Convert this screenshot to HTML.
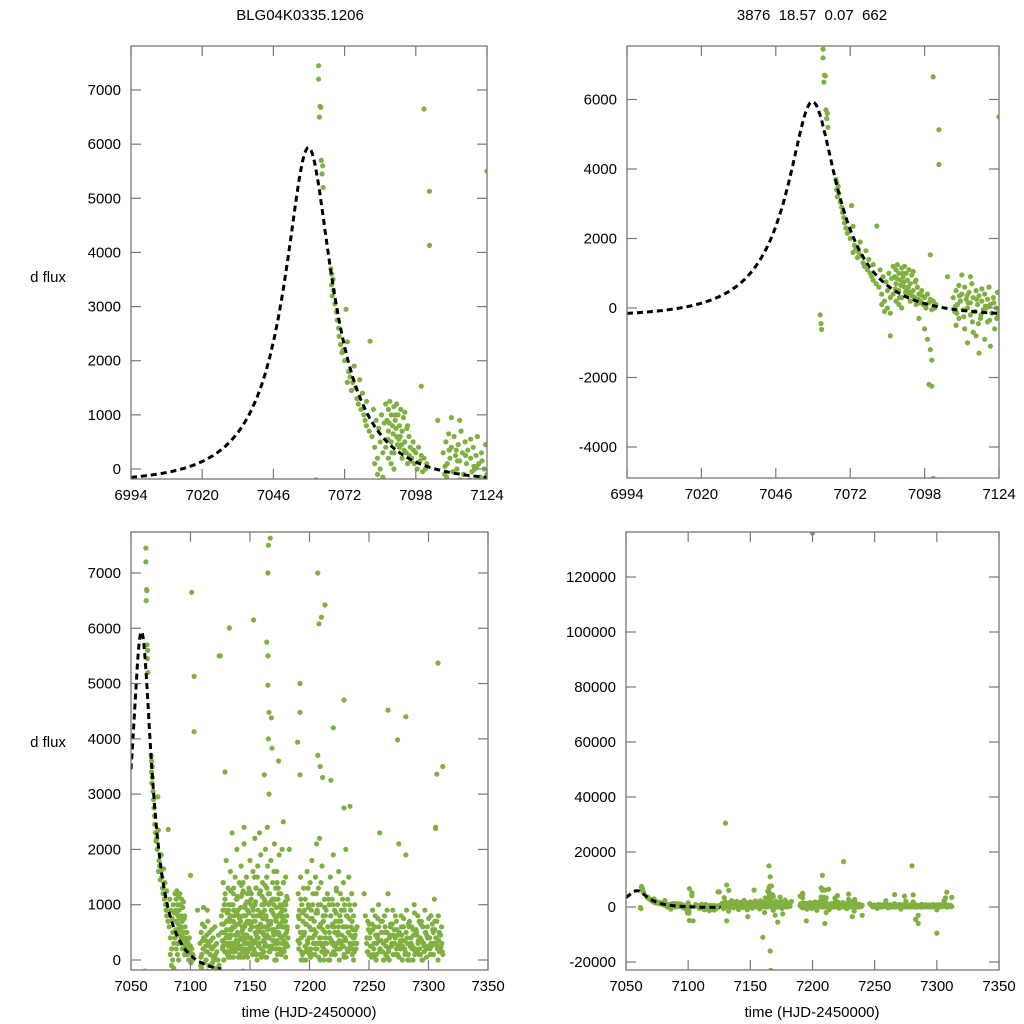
<!DOCTYPE html>
<html><head><meta charset="utf-8"><style>
html,body{margin:0;padding:0;background:#fff;}
svg{display:block;font-family:"Liberation Sans",Arial,sans-serif;}
</style></head><body>
<svg id="chart" width="1024" height="1024" viewBox="0 0 1024 1024" xmlns="http://www.w3.org/2000/svg">
<text x="300" y="20" font-size="15" text-anchor="middle">BLG04K0335.1206</text>
<text x="812" y="20" font-size="15" text-anchor="middle" xml:space="preserve">3876  18.57  0.07  662</text>
<text x="48" y="282" font-size="15" text-anchor="middle">d flux</text>
<text x="48" y="747" font-size="15" text-anchor="middle">d flux</text>
<text x="309" y="1017" font-size="15" text-anchor="middle">time (HJD-2450000)</text>
<text x="812" y="1017" font-size="15" text-anchor="middle">time (HJD-2450000)</text>
</svg>
<script>
// model parameters (Paczynski fit)
const modelT0 = [7058.8];
const modelTE = [28];
const modelU0 = [0.3];
const modelFs = [2530];
const modelFb = [-250];

// observations: season 1 (peak & decline)
const season1T = [7062.5,7062.5,7063,7063.3,7062.8,7063.5,7064,7063.8,7064.2,7061.5,7061.8,7062,
7067,7067.3,7067.8,7067.2,7068,7067.5,7068.5,7069,7069.3,7069.8,7070,7070.5,7071,7072,7071.5,7073,7073.5,7074,7075,7074.5,7076,7076.5,7077,7077.5,7078,7078.5,7079,7079.5,7080,7075.5,7073,7080,7081,7072.5,7081.3,
7082,7082.5,7083,7083.5,7084,7084,7084.5,7085,7085.5,7086,7086,7083,7085,
7087,7087.5,7088,7088,7088.5,7089,7089,7089.5,7090,7090,7090.5,7091,7091,7091.5,7092,7092,7092.5,7093,7093,7093.5,7094,7094,7094.5,7095,7095,7095.5,7096,7096.5,7097,7097.5,7098,7098.5,7099,7099.5,7100,7100.5,7101,7101.5,7102,7088,7089,7090,7087,
7088.3,7089.7,7090.3,7091.3,7092.3,7093.7,7094.7,7095.7,7096.2,7097.2,7086.5,7087.8,7089.2,7090.8,7091.8,7092.8,
7096,7098,7099,7100,7100.5,7099.5,7100.5,7101,7086,
7101,7103,7103,7100,7124,7106,
7108,7108.5,7109,7109.5,7110,7110,7110.5,7111,7111.5,7112,7112,7112.5,7113,7113.5,7114,7114,7114.5,7115,7115.5,7116,7116,7116.5,7117,7117.5,7118,7118,7118.5,7119,7119.5,7120,7120,7120.5,7121,7121.5,7122,7122.5,7123,7123.5,7124,7113,7117,7121,7109,7115,7119,7111,7114,
7108.7,7110.2,7111.7,7113.2,7114.7,7116.2,7117.7,7119.2,7120.7,7122.2,7123.7,7109.3,7112.8,7116.8,7120.3,7123.2];
const season1F = [7450,7200,6700,6680,6500,5700,5600,5450,5200,-200,-450,-620,
3700,3600,3500,3400,3300,3200,3050,2900,2750,2600,2450,2300,2150,2000,2200,2350,1800,1700,1600,1450,1500,1300,1200,1650,1100,1400,1000,900,1250,1900,1600,800,700,2950,2360,
600,1100,400,900,200,-100,750,500,1000,300,-150,100,0,
1200,900,1100,700,1250,1000,500,800,1150,300,900,600,1200,1000,400,800,1100,200,700,950,500,1050,300,800,100,600,400,200,500,100,300,0,400,150,250,-50,200,0,100,200,100,0,400,
850,650,1000,450,600,350,750,250,150,350,850,550,300,750,550,450,
-300,-600,-900,-1200,-1500,-2200,-2250,-4900,-800,
6650,5130,4130,1530,5500,900,
300,-100,500,100,650,-300,200,400,-50,600,-600,250,0,450,-200,150,700,300,-100,500,-800,100,350,-300,200,550,-50,400,0,-400,250,600,100,-150,300,-600,0,450,-100,-1000,-1300,-1100,-500,-700,-900,950,900,
50,350,-250,150,-400,250,-200,50,-350,150,-250,-150,350,-450,50,-300];

// season 2
const season2T = [7126,7127,7127.5,7128,7128.5,7129,7129.5,7130,7130.5,7131,7131.5,7132,7132.5,7133,7133.5,7134,7134.5,7135,7135.5,7136,7136.5,7137,7137.5,7138,7138.5,7139,7139.5,7140,7140.5,7141,7141.5,7142,7142.5,7143,7143.5,7144,7144.5,7145,7145.5,7146,7146.5,7147,7147.5,7148,7148.5,7149,7149.5,7150,7150.5,7151,7151.5,7152,7152.5,7153,7153.5,7154,7154.5,7155,7155.5,7156,7156.5,7157,7157.5,7158,7158.5,7159,7159.5,7160,7160.5,7161,7161.5,7162,7162.5,7163,7163.5,7164,7164.5,7165,7165.5,7166,7166.5,7167,7167.5,7168,7168.5,7169,7169.5,7170,7170.5,7171,7171.5,7172,7172.5,7173,7173.5,7174,7174.5,7175,7175.5,7176,7176.5,7177,7177.5,7178,7178.5,7179,7179.5,7180,7180.5,7181,7181.5,7182];
const season2F = [800,200,1400,500,-600,1100,300,1800,700,100,1300,900,-1500,400,1600,1000,200,2300,600,1200,-300,800,1500,300,1100,2000,500,900,-900,1400,100,700,1700,400,1200,-200,800,2100,600,1000,300,1500,-1000,900,200,1300,700,1800,400,1100,-400,600,1600,300,1000,2200,500,1300,100,800,1700,400,-700,1200,600,1900,200,1000,1400,500,-2000,1100,300,2000,800,1500,2400,600,4000,3000,1200,200,1800,900,-1200,1400,500,1000,2100,300,1300,700,1600,100,1100,500,1900,800,-500,1200,400,2000,900,1400,200,1000,600,1500,300,800,1100,400];
const season2bT = [7128,7132,7136,7140,7144,7148,7152,7156,7160,7164,7168,7172,7176,7180,7130,7138,7146,7154,7162,7170,7178,
7126.7,7127.7,7128.7,7129.7,7130.7,7131.7,7132.7,7133.7,7134.7,7135.7,7136.7,7137.7,7138.7,7139.7,7140.7,7141.7,7142.7,7143.7,7144.7,7145.7,7146.7,7147.7,7148.7,7149.7,7150.7,7151.7,7152.7,7153.7,7154.7,7155.7,7156.7,7157.7,7158.7,7159.7,7160.7,7161.7,7162.7,7163.7,7164.7,7165.7,7166.7,7167.7,7168.7,7169.7,7170.7,7171.7,7172.7,7173.7,7174.7,7175.7,7176.7,7177.7,7178.7,7179.7,7180.7,7181.7];
const season2bF = [0,100,50,250,150,50,200,0,100,50,250,0,150,50,400,650,450,350,600,450,600,
350,650,150,900,450,250,750,50,550,1000,150,450,850,300,650,200,1150,550,350,950,100,700,400,1250,250,600,900,150,1050,500,300,1200,650,50,850,450,1350,250,550,1000,150,700,1100,350,800,200,1400,600,450,950,300,750,150,1050,500];
const season2cT = [7126.3,7127.3,7128.3,7129.3,7130.3,7131.3,7132.3,7133.3,7134.3,7135.3,7136.3,7137.3,7138.3,7139.3,7140.3,7141.3,7142.3,7143.3,7144.3,7145.3,7146.3,7147.3,7148.3,7149.3,7150.3,7151.3,7152.3,7153.3,7154.3,7155.3,7156.3,7157.3,7158.3,7159.3,7160.3,7161.3,7162.3,7163.3,7164.3,7165.3,7166.3,7167.3,7168.3,7169.3,7170.3,7171.3,7172.3,7173.3,7174.3,7175.3,7176.3,7177.3,7178.3,7179.3,7180.3,7181.3];
const season2cF = [650,250,1000,150,550,850,300,700,450,150,900,600,200,1150,350,750,50,500,1250,300,800,450,150,1050,650,300,950,200,700,1300,400,550,100,850,600,1000,250,750,450,1200,150,650,900,350,550,1100,200,800,450,1000,150,700,350,900,250,600];
const season2dT = [7126.2,7127.2,7128.2,7129.2,7130.2,7131.2,7132.2,7133.2,7134.2,7135.2,7136.2,7137.2,7138.2,7139.2,7140.2,7141.2,7142.2,7143.2,7144.2,7145.2,7146.2,7147.2,7148.2,7149.2,7150.2,7151.2,7152.2,7153.2,7154.2,7155.2,7156.2,7157.2,7158.2,7159.2,7160.2,7161.2,7162.2,7163.2,7164.2,7165.2,7166.2,7167.2,7168.2,7169.2,7170.2,7171.2,7172.2,7173.2,7174.2,7175.2,7176.2,7177.2,7178.2,7179.2,7180.2,7181.2];
const season2dF = [500,900,300,1200,700,150,1000,450,800,250,1300,600,350,1100,50,750,950,400,1400,200,650,1050,300,850,550,1200,100,700,1000,450,1500,250,800,600,1150,350,900,50,1300,700,400,1050,200,850,1600,500,950,300,1200,650,100,800,1400,450,1000,550];
const season2eT = [7126.8,7127.8,7128.8,7129.8,7130.8,7131.8,7132.8,7133.8,7134.8,7135.8,7136.8,7137.8,7138.8,7139.8,7140.8,7141.8,7142.8,7143.8,7144.8,7145.8,7146.8,7147.8,7148.8,7149.8,7150.8,7151.8,7152.8,7153.8,7154.8,7155.8,7156.8,7157.8,7158.8,7159.8,7160.8,7161.8,7162.8,7163.8,7164.8,7165.8,7166.8,7167.8,7168.8,7169.8,7170.8,7171.8,7172.8,7173.8,7174.8,7175.8,7176.8,7177.8,7178.8,7179.8,7180.8,7181.8];
const season2eF = [200,650,1000,400,850,50,550,1250,300,700,900,150,1100,450,800,250,1350,600,50,950,400,1200,700,200,1000,350,800,1500,100,600,900,300,1250,500,750,150,1050,400,1700,650,250,900,550,1100,0,750,350,1300,200,850,600,1000,300,700,1150,250];

// season 3
const season3T = [7190,7190.5,7191,7191.5,7192,7192.5,7193,7193.5,7194,7194.5,7195,7195.5,7196,7196.5,7197,7197.5,7198,7198.5,7199,7199.5,7200,7200.5,7201,7201.5,7202,7202.5,7203,7203.5,7204,7204.5,7205,7205.5,7206,7206.5,7207,7207.5,7208,7208.5,7209,7209.5,7210,7210.5,7211,7211.5,7212,7212.5,7213,7213.5,7214,7214.5,7215,7215.5,7216,7216.5,7217,7217.5,7218,7218.5,7219,7219.5,7220,7220.5,7221,7221.5,7222,7222.5,7223,7223.5,7224,7224.5,7225,7225.5,7226,7226.5,7227,7227.5,7228,7228.5,7229,7229.5,7230,7230.5,7231,7231.5,7232,7232.5,7233,7233.5,7234,7234.5,7235,7235.5,7236,7237,7237.5,7238,7239,7240];
const season3F = [600,1200,200,900,-300,1500,400,1000,100,700,1300,-800,500,1100,0,800,1600,300,1000,-500,600,1400,200,900,1800,400,1200,-1200,700,100,1500,500,2100,900,300,1300,600,2200,0,1000,400,1700,-2000,800,200,1100,500,-900,900,300,1200,600,0,1000,400,1500,800,100,1100,600,1900,300,900,-400,700,1300,200,1000,500,1600,0,800,1200,300,900,-600,600,1400,100,1000,400,2000,800,200,1100,500,1500,-1500,300,900,600,1200,100,800,400,1000,200,600];
const season3bT = [7193,7197,7201,7205,7209,7213,7217,7221,7225,7229,7233,7237,7200,7212,7220,
7190.3,7191.3,7192.3,7193.3,7194.3,7195.3,7196.3,7197.3,7198.3,7199.3,7200.3,7201.3,7202.3,7203.3,7204.3,7205.3,7206.3,7207.3,7208.3,7209.3,7210.3,7211.3,7212.3,7213.3,7218.3,7219.3,7220.3,7221.3,7222.3,7223.3,7224.3,7225.3,7226.3,7227.3,7228.3,7229.3,7230.3,7231.3,7232.3,7233.3,7234.3,7235.3,7236.3,7237.3,7238.3];
const season3bF = [0,150,50,200,300,100,0,250,350,50,200,0,100,0,150,
350,750,500,150,850,450,250,650,350,950,150,550,750,300,450,850,200,1000,400,650,150,550,300,800,350,650,150,500,850,300,600,200,700,450,250,900,350,600,150,750,450,200,550,300,450];
const season3cT = [7190.7,7191.7,7192.7,7193.7,7194.7,7195.7,7196.7,7197.7,7198.7,7199.7,7200.7,7201.7,7202.7,7203.7,7204.7,7205.7,7206.7,7207.7,7208.7,7209.7,7210.7,7211.7,7212.7,7213.7,7214.7,7215.7,7216.7,7217.7,7218.7,7219.7,7220.7,7221.7,7222.7,7223.7,7224.7,7225.7,7226.7,7227.7,7228.7,7229.7,7230.7,7231.7,7232.7,7233.7,7234.7,7235.7,7236.7,7237.7,7238.7,7239.7];
const season3cF = [800,300,1100,500,0,900,650,200,1300,400,750,100,1000,550,300,1200,850,50,600,1400,250,700,950,400,150,1100,500,800,300,1000,600,100,1250,450,700,200,900,1100,350,600,50,800,500,1000,250,700,400,150,550,300];

// season 4
const season4T = [7248,7249,7250,7251,7252,7253,7254,7255,7256,7257,7258,7259,7260,7261,7262,7263,7264,7265,7266,7267,7268,7269,7270,7271,7272,7273,7274,7275,7275.5,7276,7277,7278,7279,7280,7281,7281.5,7282,7283,7284,7285,7285.5,7286,7287,7288,7289,7290,7291,7292,7293,7294,7295,7296,7297,7298,7299,7300,7301,7302,7303,7304,7305,7306,7306.5,7307,7308,7309,7310,7311,7312];
const season4F = [300,700,100,500,-500,900,200,600,0,400,1000,150,700,-300,300,800,100,500,1200,0,600,250,900,-800,400,700,100,2100,500,300,800,0,600,200,1900,900,400,100,700,-3000,300,600,0,1000,200,500,800,100,400,700,0,300,900,200,600,-1000,400,800,100,500,1100,2400,300,700,0,500,200,600,100];
const season4bT = [7250.5,7254.5,7258.5,7262.5,7266.5,7270.5,7274.5,7278.5,7282.5,7286.5,7290.5,7294.5,7298.5,7302.5,7308.5,
7248.5,7249.5,7251.5,7252.5,7253.5,7255.5,7256.5,7257.5,7259.5,7260.5,7261.5,7263.5,7264.5,7265.5,7267.5,7268.5,7269.5,7271.5,7272.5,7273.5,7276.5,7277.5,7279.5,7280.5,7283.5,7284.5,7287.5,7288.5,7289.5,7291.5,7292.5,7293.5,7295.5,7296.5,7297.5,7299.5,7300.5,7301.5,7303.5,7304.5,7305.5,7307.5,7309.5,7310.5,7311.5];
const season4bF = [400,50,350,0,200,450,250,350,0,250,150,0,450,250,350,
150,550,250,650,100,450,300,750,200,500,150,600,350,50,450,250,650,300,100,550,200,450,350,150,600,250,450,100,550,350,200,650,300,150,500,250,400,100,550,300,700,200,450,250,150];
const season4cT = [7248.2,7249.2,7250.2,7251.2,7252.2,7253.2,7254.2,7255.2,7256.2,7257.2,7258.2,7259.2,7260.2,7261.2,7262.2,7263.2,7264.2,7265.2,7266.2,7267.2,7268.2,7269.2,7270.2,7271.2,7272.2,7273.2,7274.2,7275.2,7276.2,7277.2,7278.2,7279.2,7280.2,7281.2,7282.2,7283.2,7284.2,7285.2,7286.2,7287.2,7288.2,7289.2,7290.2,7291.2,7292.2,7293.2,7294.2,7295.2,7296.2,7297.2,7298.2,7299.2,7300.2,7301.2,7302.2,7303.2,7304.2,7305.2,7306.2,7307.2,7308.2,7309.2,7310.2,7311.2];
const season4cF = [400,150,650,250,50,550,300,800,100,450,600,200,350,700,0,500,250,900,150,400,650,300,100,550,800,200,450,50,350,600,250,750,100,500,300,650,0,400,200,550,850,150,450,300,700,100,350,600,250,500,50,400,750,200,300,650,100,550,400,250,800,150,450,300];

// isolated outliers
const outlierT = [7132.6,7153,7125,7167,7165,7164,7165,7165,7166,7168,7168.5,7162,7174,7192,7192,7190,7192,7208,7210,7213,7207,7209,7211,7220,7229,7218,7229,7234,7266,7274,7281,7308,7307,7306,7129,7145,7158,7178,7183,7246,7259,7247];
const outlierF = [6005,6150,5500,7630,7000,5750,5500,4970,4480,4380,3830,3350,3600,5000,4480,3940,3350,6080,6200,6420,3700,3500,3300,4200,4700,3250,2750,2780,4520,3980,4400,5370,3360,2380,3400,2400,2300,2500,2000,1200,2300,800];
const farOutlierT = [7130,7131,7165,7166,7165.5,7208,7207,7225,7280,7200,7160,7166,7166.5,7131,7300,7285,7283,7210,7195,7172,7176,7232,7148,7104,7312,7240,7170];
const farOutlierF = [30500,8000,15000,11000,7500,11500,7000,16500,15000,136000,-11000,-16000,-23000,-5000,-9500,-6000,-4500,-6000,-5000,-5500,-2500,-3500,-3500,-5000,3500,-3000,-3000];

// tick labels
const p1YTicks = [0,1000,2000,3000,4000,5000,6000,7000];
const p2YTicks = [-4000,-2000,0,2000,4000,6000];
const p3YTicks = [0,1000,2000,3000,4000,5000,6000,7000];
const p4YTicks = [-20000,0,20000,40000,60000,80000,100000,120000];
const topXTicks = [6994,7020,7046,7072,7098,7124];
const bottomXTicks = [7050,7100,7150,7200,7250,7300,7350];

const NS = "http://www.w3.org/2000/svg";
const svg = document.getElementById('chart');
function mk(tag, attrs, parent){
  const e = document.createElementNS(NS, tag);
  for (const k in attrs) e.setAttribute(k, attrs[k]);
  (parent||svg).appendChild(e);
  return e;
}
function model(t){
  const u = Math.sqrt(modelU0[0]*modelU0[0] + Math.pow((t-modelT0[0])/modelTE[0],2));
  const A = (u*u+2)/(u*Math.sqrt(u*u+4));
  return modelFs[0]*(A-1)+modelFb[0];
}
const seriesList = [
  [season1T, season1F],[season2T, season2F],[season2bT, season2bF],[season2cT, season2cF],[season2dT, season2dF],[season2eT, season2eF],
  [season3T, season3F],[season3bT, season3bF],[season3cT, season3cF],
  [season4T, season4F],[season4bT, season4bF],[season4cT, season4cF],
  [outlierT, outlierF],[farOutlierT, farOutlierF]
];

const panels = [
 {id:'top-left', L:131, R:487, T:46, B:479, x0:6994, x1:7124, yz:469, ys:0.05414, xt:topXTicks, yt:p1YTicks, c0:6994, c1:7124},
 {id:'top-right', L:627, R:999, T:46, B:478, x0:6994, x1:7124, yz:308, ys:0.03475, xt:topXTicks, yt:p2YTicks, c0:6994, c1:7124},
 {id:'bottom-left', L:131, R:488, T:532, B:970, x0:7050, x1:7350, yz:960, ys:0.05529, xt:bottomXTicks, yt:p3YTicks, c0:7050, c1:7126},
 {id:'bottom-right', L:626, R:999, T:532, B:970, x0:7050, x1:7350, yz:907, ys:0.00275, xt:bottomXTicks, yt:p4YTicks, c0:7050, c1:7126}
];
panels.forEach(function(p, i){
  const xs = function(t){ return p.L + (t-p.x0)/(p.x1-p.x0)*(p.R-p.L); };
  const ysf = function(f){ return p.yz - f*p.ys; };
  const g = mk('g', {});
  
  
  const cp = mk('clipPath', {id:'clip'+i}, g);
  mk('rect', {x:p.L, y:p.T, width:p.R-p.L, height:p.B-p.T}, cp);
  const pts = mk('g', {'clip-path':'url(#clip'+i+')', fill:'#80b041'}, g);
  
  
  seriesList.forEach(function(s){
    const n = Math.min(s[0].length, s[1].length);
    for (let k=0;k<n;k++){
      const cx = xs(s[0][k]), cy = ysf(s[1][k]);
      if (cx < p.L-4 || cx > p.R+4 || cy < p.T-4 || cy > p.B+4) continue;
      const c = mk('circle', {cx:cx.toFixed(1), cy:cy.toFixed(1), r:2.6}, pts);
      
      
    }
  });
  let d = '';
  for (let t=p.c0; t<=p.c1+0.001; t+=0.25){
    d += (d?'L':'M') + xs(t).toFixed(1) + ',' + ysf(model(t)).toFixed(1);
  }
  const path = mk('path', {d:d, fill:'none', stroke:'#000', 'stroke-width':3, 'stroke-dasharray':'6,4', 'clip-path':'url(#clip'+i+')'}, g);
  
  
  const fr = mk('rect', {x:p.L, y:p.T, width:p.R-p.L, height:p.B-p.T, fill:'none', stroke:'#777', 'stroke-width':1.3}, g);
  
  
  p.xt.forEach(function(v){
    const x = xs(v);
    mk('line', {x1:x, x2:x, y1:p.B, y2:p.B-10, stroke:'#777', 'stroke-width':1.2}, g);
    mk('line', {x1:x, x2:x, y1:p.T, y2:p.T+10, stroke:'#777', 'stroke-width':1.2}, g);
    const tx = mk('text', {x:x, y:p.B+21, 'font-size':15, 'text-anchor':'middle'}, g);
    tx.textContent = v;
    
    
  });
  p.yt.forEach(function(v){
    const y = ysf(v);
    if (y < p.T-1 || y > p.B+1) return;
    mk('line', {x1:p.L, x2:p.L+10, y1:y, y2:y, stroke:'#777', 'stroke-width':1.2}, g);
    mk('line', {x1:p.R, x2:p.R-10, y1:y, y2:y, stroke:'#777', 'stroke-width':1.2}, g);
    const tx = mk('text', {x:p.L-10, y:y+5, 'font-size':15, 'text-anchor':'end'}, g);
    tx.textContent = v;
    
    
  });
});
</script>
</body></html>
